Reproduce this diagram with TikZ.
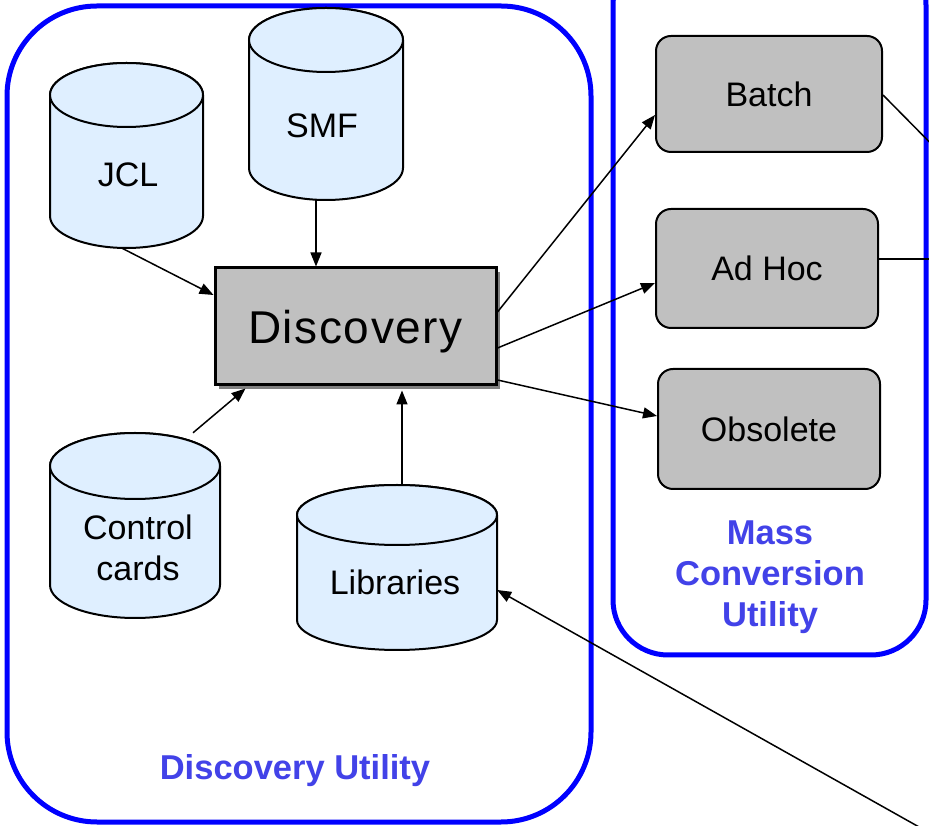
\documentclass[tikz,border=0pt]{standalone}
\usepackage{fontspec}
\setmainfont{Liberation Sans}
\usetikzlibrary{arrows.meta,shadows}
\definecolor{cylfill}{RGB}{223,239,255}
\definecolor{boxgray}{RGB}{192,192,192}
\definecolor{lblue}{RGB}{66,66,232}
\newcommand\cylshape[5]{%
  \pgfmathsetmacro\cxa{(#1+#2)/2}%
  \pgfmathsetmacro\rxa{(#2-#1)/2}%
  \filldraw[cylline] (#1,#3-#5) -- (#1,#4+#5)
    arc[start angle=180,end angle=360,x radius=\rxa,y radius=#5]
    -- (#2,#3-#5)
    arc[start angle=0,end angle=180,x radius=\rxa,y radius=#5] -- cycle;
  \draw[cylline] (\cxa,#3-#5) ellipse[x radius=\rxa,y radius=#5];
}
\begin{document}
\begin{tikzpicture}[x=1pt,y=1pt,
  cylline/.style={draw=black,line width=2pt,fill=cylfill},
  hold/.style={inner sep=0pt,minimum width=#1},
  lbl/.style={font=\fontsize{34}{40}\selectfont,align=center,inner sep=0pt},
  ulbl/.style={font=\fontsize{34.5}{41}\selectfont\bfseries,text=lblue,align=center,inner sep=0pt},
  gbox/.style={draw=black,line width=2pt,fill=boxgray,rounded corners=15pt,inner sep=0pt,font=\fontsize{34}{40}\selectfont},
  frame/.style={draw=blue,line width=5pt},
  arr/.style={line width=1.5pt,-{Triangle[length=14pt,width=11pt]}},
  plain/.style={line width=1.5pt}]
\useasboundingbox (0,0) rectangle (929,825);
\clip (0,0) rectangle (929,825);

% frames
\draw[frame,rounded corners=90pt] (7,3) rectangle (591,819);
\draw[frame,rounded corners=55pt] (613,170) rectangle (926,875);

% cylinders
\cylshape{50}{203}{762}{577}{32}
\node[hold=153pt,minimum height=185pt] (jcl) at (126.5,669.5) {};
\node[lbl] (jcltxt) at (128,650) {JCL};

\cylshape{249}{403}{817}{625}{32}
\node[hold=154pt,minimum height=192pt] (smf) at (326,721) {};
\node[lbl] (smftxt) at (322,699) {SMF};

\cylshape{50}{220}{392}{207}{33}
\node[hold=170pt,minimum height=185pt] (ctrl) at (135,299.5) {};
\node[lbl] (ctrltxt) at (138,277) {Control\\[1pt]cards};

\cylshape{297}{497}{340}{175}{30}
\node[hold=200pt,minimum height=165pt] (libs) at (397,257.5) {};
\node[lbl] (libstxt) at (395,243) {Libraries};

% discovery
\node[draw=black,line width=3pt,fill=boxgray,minimum width=281pt,minimum height=117pt,inner sep=0pt,
  drop shadow={shadow xshift=4pt,shadow yshift=-4pt,fill=black!50,opacity=1}] (disc) at (355.5,498.5) {};
\node[font=\fontsize{46}{50}\selectfont\addfontfeature{LetterSpace=3.5},inner sep=0pt] (disctxt) at (355.5,493) {Discovery};

% right boxes
\node[gbox,minimum width=226pt,minimum height=116pt] (batch) at (769,731) {Batch};
\node[gbox,minimum width=222pt,minimum height=119pt] (adhoc) at (767,556.5) {Ad Hoc};
\node[gbox,minimum width=222pt,minimum height=120pt] (obs) at (769,396) {Obsolete};

% labels
\node[ulbl] (mcu) at (770,248) {Mass\\Conversion\\Utility};
\node[ulbl] (du) at (295,54) {Discovery Utility};

% free ends
\coordinate (offA) at (960,652);
\coordinate (offB) at (960,566);
\coordinate (offC) at (960,-25);

% connectors
\draw[arr] ([xshift=-4.5]jcl.south) -- ([yshift=31.5]disc.west);
\draw[arr] ([xshift=-10]smf.south) -- ([xshift=-10]smf.south |- disc.north);
\draw[arr] ([xshift=58]ctrl.north) -- ([xshift=-110,yshift=-2]disc.south);
\draw[arr] ([xshift=5]libs.north) -- ([xshift=5,yshift=-4]libs.north |- disc.south);
\draw[arr] ([yshift=14.5]disc.east) -- ([yshift=-21]batch.west);
\draw[arr] ([yshift=-21.5]disc.east) -- ([yshift=-14.5]adhoc.west);
\draw[arr] ([yshift=-53.5]disc.east) -- ([yshift=13]obs.west);
\draw[plain] ([yshift=-1]batch.east) -- (offA);
\draw[plain] ([yshift=9.5]adhoc.east) -- (offB);
\draw[arr] (offC) -- ([yshift=-22.5]libs.east);
\end{tikzpicture}
\end{document}
